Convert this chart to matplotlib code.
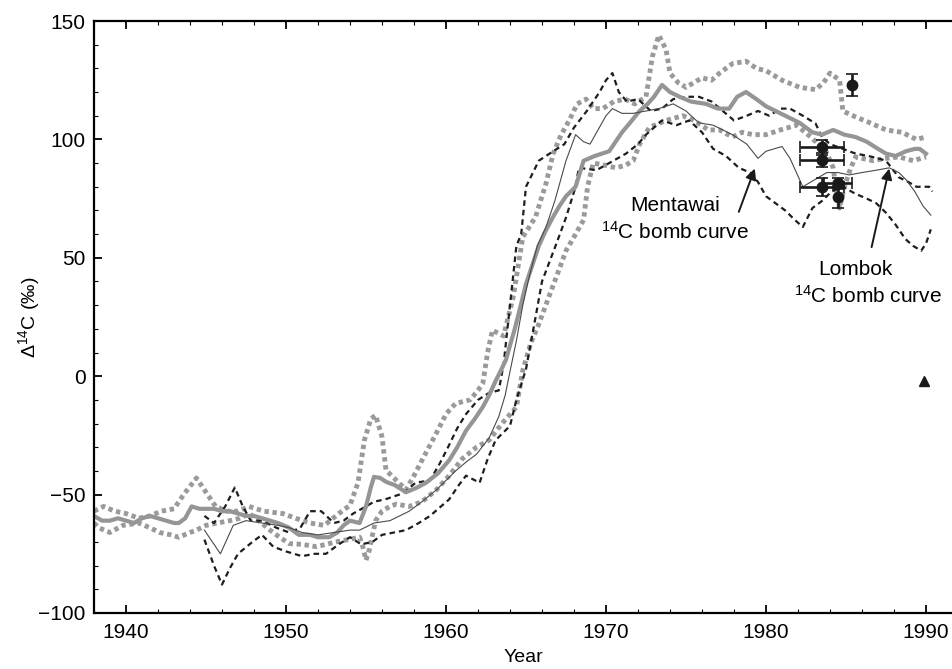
import numpy as np
import matplotlib
matplotlib.use("Agg")
import matplotlib.pyplot as plt

plt.rcParams['font.family'] = ['Liberation Sans', 'DejaVu Sans']
plt.rcParams['mathtext.default'] = 'regular'

# thick grey solid curve (year, D14C)
grey_mean = np.array([
    [1938, -59], [1938.5, -61], [1939, -61], [1939.5, -60], [1940, -61], [1940.5, -62],
    [1941, -60], [1941.5, -59], [1942, -60], [1942.5, -61], [1943, -62], [1943.3, -62],
    [1943.7, -60], [1944.1, -55], [1944.6, -56], [1945, -56], [1945.5, -56], [1946, -57],
    [1946.5, -57], [1947, -58], [1947.5, -59], [1948, -59], [1948.5, -60], [1949, -61],
    [1949.5, -62], [1950.2, -64], [1950.8, -67], [1951.5, -67], [1952, -68], [1952.7, -68],
    [1953.2, -66], [1953.6, -63], [1954, -61], [1954.6, -62], [1955.0, -55], [1955.3, -47],
    [1955.5, -42.5], [1955.9, -43], [1956.25, -44.6], [1956.8, -46], [1957.5, -49], [1958.2, -47],
    [1958.75, -45], [1959.5, -41], [1960.2, -35.5], [1960.7, -30], [1961.25, -23], [1961.8, -18],
    [1962.3, -13], [1962.7, -8], [1963.1, -2], [1963.4, 2], [1963.75, 7], [1964.0, 13],
    [1964.3, 20], [1964.6, 28], [1965.0, 39], [1965.4, 47], [1965.8, 55], [1966.2, 61],
    [1966.67, 67], [1967.1, 72], [1967.5, 76], [1968.1, 80], [1968.6, 91], [1969.3, 93],
    [1970.2, 95], [1970.6, 99], [1971.0, 103], [1971.5, 107], [1972.1, 112], [1972.6, 115],
    [1973.0, 118], [1973.5, 123], [1974.0, 120], [1974.6, 118], [1975.3, 116], [1976.25, 115],
    [1977.0, 113], [1977.7, 113], [1978.2, 118], [1978.75, 120], [1979.4, 117], [1980.0, 114],
    [1980.6, 112], [1981.2, 110], [1982.1, 107], [1982.9, 103], [1983.5, 102], [1984.2, 104],
    [1984.9, 102], [1985.6, 101], [1986.3, 99], [1987.0, 96], [1987.5, 94], [1988.1, 93],
    [1988.75, 95], [1989.3, 96], [1989.6, 96], [1990.0, 94],
])

# thin dark solid curve
thin_curve = np.array([
    [1944.9, -65], [1945.4, -70], [1945.9, -75], [1946.3, -69], [1946.7, -63], [1947.5, -61],
    [1948.5, -62], [1949.5, -63], [1950.2, -64], [1951, -66], [1952, -67], [1953, -66],
    [1954, -65], [1954.6, -65], [1955.5, -62], [1956.5, -61], [1957.7, -57], [1958.5, -53],
    [1959.4, -48], [1960, -44], [1960.6, -40], [1961.3, -36], [1961.9, -33], [1962.7, -26],
    [1963.3, -17], [1963.7, -8], [1964, 2], [1964.4, 15], [1964.8, 30], [1965.2, 42],
    [1965.7, 55], [1966.25, 63], [1966.8, 74], [1967.5, 91], [1968.1, 102], [1968.6, 99],
    [1969, 98], [1969.5, 104], [1970, 110], [1970.4, 113], [1971, 111], [1971.7, 111],
    [1972.5, 112], [1973.3, 113], [1974.2, 115], [1975, 112], [1975.8, 107], [1976.7, 106],
    [1977.9, 102], [1978.8, 98], [1979.5, 92], [1980, 95], [1981, 97], [1981.5, 92],
    [1981.9, 86], [1982.3, 80], [1982.8, 82], [1983.8, 86], [1984.5, 86], [1985.2, 85],
    [1986, 86], [1986.9, 87], [1987.7, 88], [1988.3, 86], [1988.75, 83], [1989.3, 78],
    [1989.8, 72], [1990.3, 68],
])

# black dashed envelope, upper
dash_upper = np.array([
    [1944.9, -59], [1945.5, -62], [1946.2, -55], [1946.8, -47], [1947.3, -55], [1947.8, -61],
    [1948.5, -61], [1949.4, -64], [1950.2, -66], [1950.9, -64], [1951.5, -57], [1952.2, -57],
    [1953, -62], [1953.6, -61], [1954.2, -58], [1955, -55], [1955.5, -53], [1956.2, -52],
    [1957.3, -49.5], [1958.1, -45], [1959, -44], [1959.6, -37], [1960.2, -29], [1960.7, -22],
    [1961.25, -16], [1962, -10], [1962.7, -7], [1963.3, -6], [1963.6, 5], [1964, 30],
    [1964.4, 55], [1964.7, 60], [1965, 80], [1965.8, 91], [1966.7, 95], [1967.4, 98],
    [1968, 105], [1968.8, 112], [1969.6, 120], [1970, 125], [1970.4, 128], [1970.8, 120],
    [1971.3, 116], [1972, 117], [1972.8, 112], [1973.5, 113], [1974.2, 117], [1975, 118],
    [1975.8, 118], [1976.6, 116], [1977.3, 112], [1978, 108], [1978.8, 110], [1979.5, 112],
    [1980.2, 110], [1980.9, 113], [1981.5, 113], [1982.3, 110], [1983.1, 106.7], [1983.5, 101],
    [1984, 98], [1984.8, 96], [1985.6, 94], [1986.4, 93], [1987, 92], [1987.5, 91],
    [1988.3, 84], [1988.9, 82], [1989.4, 80], [1990.2, 80], [1990.4, 78],
])

# black dashed envelope, lower
dash_lower = np.array([
    [1944.9, -69], [1945.5, -80], [1946, -88], [1946.5, -81], [1947, -75], [1947.9, -70],
    [1948.5, -67], [1949.2, -72], [1950, -74], [1951, -76], [1951.8, -75], [1952.5, -75],
    [1953.3, -71], [1954, -68], [1954.7, -71], [1955.4, -70], [1956, -67], [1957.5, -65],
    [1958.3, -62], [1959, -59], [1960.2, -52], [1960.8, -46], [1961.25, -42], [1962.1, -45],
    [1962.6, -35], [1963.1, -27], [1964, -21], [1964.4, -10], [1965, 3], [1965.6, 25],
    [1966, 40], [1966.9, 56], [1967.5, 67], [1968.1, 80], [1968.3, 88], [1969.4, 87],
    [1970.2, 90], [1971.25, 94], [1972, 98], [1972.5, 102], [1973.5, 108], [1974.4, 106],
    [1975.2, 108], [1976, 103], [1976.7, 96], [1977.5, 93], [1978.3, 88], [1979, 86],
    [1979.5, 82], [1980, 76], [1980.6, 73], [1981.2, 70], [1981.8, 66], [1982.3, 63],
    [1982.9, 71], [1983.5, 74], [1984.1, 78], [1984.8, 80], [1985.6, 77], [1986.3, 75],
    [1986.9, 73], [1987.5, 69], [1988.1, 64], [1988.7, 58], [1989.2, 55], [1989.7, 53],
    [1990.0, 56], [1990.3, 62],
])

# grey dotted envelope, upper
dot_upper = np.array([
    [1938, -57], [1938.6, -55], [1939.3, -57], [1940, -58], [1940.8, -60], [1941.5, -59],
    [1942.2, -57], [1943, -56], [1943.6, -50], [1944.4, -43], [1945, -49], [1945.6, -55],
    [1946.3, -57], [1947, -57], [1947.7, -55], [1948.6, -57], [1949.8, -58], [1950.6, -60],
    [1951.5, -62], [1952.4, -63], [1953.3, -58], [1954, -54.5], [1954.5, -45], [1954.9, -27],
    [1955.3, -18], [1955.6, -16.5], [1956, -25.6], [1956.25, -39.7], [1956.9, -44], [1957.5, -48],
    [1958, -42], [1958.5, -35.5], [1959.4, -24], [1960, -16], [1960.6, -11.5], [1961.5, -10],
    [1962, -6], [1962.3, -3], [1962.6, 10], [1962.9, 19.4], [1963.3, 18], [1963.6, 17],
    [1964.2, 33.5], [1964.8, 58.8], [1965.2, 63], [1965.6, 67.3], [1966.25, 81.4], [1966.7, 94],
    [1967.2, 102], [1967.7, 108], [1968.2, 115], [1968.75, 117], [1969.2, 113], [1969.8, 113],
    [1970.5, 116], [1971.2, 117], [1971.8, 115], [1972.5, 118], [1972.9, 135], [1973.3, 144],
    [1973.75, 138], [1974, 128], [1974.5, 124], [1975, 122], [1975.5, 124], [1976, 126],
    [1976.6, 125], [1977.1, 128], [1977.9, 132], [1978.75, 133], [1979.4, 130], [1980, 129],
    [1980.5, 127], [1981, 125], [1982.1, 122], [1983.1, 121], [1983.6, 124], [1984, 128],
    [1984.6, 125], [1984.8, 112], [1985.6, 109.5], [1986.5, 107], [1987.5, 104], [1988.5, 103],
    [1989.4, 100], [1990, 101],
])

# grey dotted envelope, lower
dot_lower = np.array([
    [1938, -62], [1938.3, -64], [1939, -66], [1939.8, -63], [1940.8, -62], [1941.5, -64],
    [1942.1, -66], [1942.8, -67], [1943.3, -68], [1944, -66], [1944.4, -65], [1945, -63],
    [1945.7, -62], [1946.5, -61], [1947.1, -60], [1947.7, -58], [1948.3, -61], [1949, -65],
    [1949.6, -68], [1950.2, -70.7], [1951, -71], [1951.9, -72], [1952.5, -71], [1953.1, -70],
    [1953.9, -69], [1954.6, -68], [1954.8, -72], [1955, -77.7], [1955.2, -73.5], [1955.6, -61],
    [1956, -57], [1956.5, -55], [1956.9, -54], [1957.7, -55], [1958.5, -53], [1959.4, -48],
    [1960.2, -42], [1961, -35], [1961.9, -30], [1962.7, -27], [1963.5, -20], [1964.4, -13],
    [1964.8, 2.5], [1965.3, 14], [1965.8, 22], [1966.4, 33], [1966.9, 42], [1967.5, 53],
    [1968.1, 60], [1968.6, 66], [1968.85, 80], [1969.2, 90], [1970, 89], [1970.6, 88],
    [1971.2, 89], [1971.7, 91], [1972.1, 98], [1972.7, 105], [1973.75, 108], [1974.8, 110],
    [1975.5, 108], [1976.4, 104], [1977.1, 104], [1977.9, 101], [1978.5, 103], [1979.2, 102],
    [1980, 102], [1980.9, 104], [1981.9, 106], [1982.8, 101], [1983.75, 95], [1984.2, 88],
    [1984.4, 78], [1984.6, 71], [1984.9, 80], [1985.3, 88], [1985.6, 92.6], [1986.7, 91],
    [1987.5, 92], [1988.3, 92.6], [1989.2, 91], [1990, 92.6],
])

# coral samples with error bars
sample_year = [1985.4, 1983.5, 1983.5, 1983.5, 1984.5, 1984.5]
sample_d14c = [122.9, 96.6, 91.2, 80.0, 81.4, 75.7]
sample_xerr = [0, 1.4, 1.4, 1.4, 0.9, 0]
sample_yerr = [4.6, 3.0, 3.0, 3.8, 2.5, 4.5]

lone_triangle = (1989.9, -2)

fig = plt.figure(figsize=(9.52, 6.69), dpi=100)
ax = fig.add_axes([94 / 952, 56 / 669, 858 / 952, 592 / 669])

ax.plot(dot_upper[:, 0], dot_upper[:, 1], color='#9a9a9a', lw=3.5, ls=(0, (0.9, 0.75)))
ax.plot(dot_lower[:, 0], dot_lower[:, 1], color='#9a9a9a', lw=3.5, ls=(0, (0.9, 0.75)))
ax.plot(dash_upper[:, 0], dash_upper[:, 1], color='#1e1e1e', lw=1.6, ls=(0, (2.5, 1.8)))
ax.plot(dash_lower[:, 0], dash_lower[:, 1], color='#1e1e1e', lw=1.6, ls=(0, (2.5, 1.8)))
ax.plot(grey_mean[:, 0], grey_mean[:, 1], color='#959595', lw=3.0)
ax.plot(thin_curve[:, 0], thin_curve[:, 1], color='#4a4a4a', lw=0.8)

ax.errorbar(sample_year, sample_d14c, xerr=sample_xerr, yerr=sample_yerr, fmt='o',
            color='#1a1a1a', ms=7.5, elinewidth=1.9, capsize=4, capthick=1.2, zorder=5)
ax.plot(*lone_triangle, marker='^', color='#1a1a1a', ms=7, ls='none')

arrow = dict(arrowstyle='-|>', color='#1a1a1a', lw=1.4, mutation_scale=16, shrinkA=0, shrinkB=0)
ax.annotate('', xy=(1979.3, 87.7), xytext=(1978.3, 69.4), arrowprops=arrow)
ax.annotate('', xy=(1987.7, 87.7), xytext=(1986.6, 54.5), arrowprops=arrow)

ax.text(1974.3, 72.2, 'Mentawai', ha='center', va='center', fontsize=15)
ax.text(1974.3, 60.8, '$^{14}$C bomb curve', ha='center', va='center', fontsize=15)
ax.text(1985.6, 45.0, 'Lombok', ha='center', va='center', fontsize=15)
ax.text(1986.4, 34.0, '$^{14}$C bomb curve', ha='center', va='center', fontsize=15)

ax.set_xlim(1938, 1938 + 858 / 16)
ax.set_ylim(-100, 150)
ax.set_xticks([1940, 1950, 1960, 1970, 1980, 1990])
ax.set_xticks(np.arange(1938, 1992, 2), minor=True)
ax.set_yticks([-100, -50, 0, 50, 100, 150])
ax.set_yticks(np.arange(-100, 151, 10), minor=True)
ax.tick_params(which='both', direction='in', top=True, right=False, labelsize=15)
ax.tick_params(which='major', length=6, width=1.3)
ax.tick_params(which='minor', length=3, width=0.8)
ax.tick_params(axis='x', pad=7)
ax.tick_params(axis='y', pad=6)
for side in ['left', 'bottom', 'top']:
    ax.spines[side].set_linewidth(1.6)
ax.spines['right'].set_visible(False)

ax.set_xlabel('Year', fontsize=14, labelpad=5)
ax.set_ylabel('Δ$^{14}$C (‰)', fontsize=14, labelpad=-3)

fig.savefig('out.png', dpi=100)
